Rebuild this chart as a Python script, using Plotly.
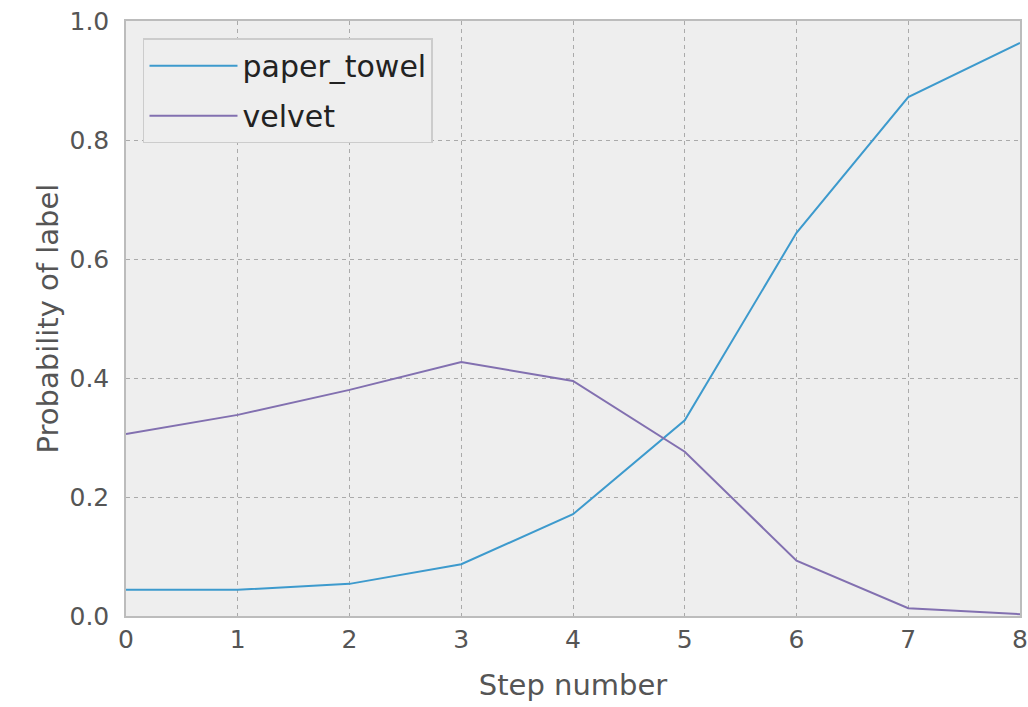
import plotly.graph_objects as go

steps = [0, 1, 2, 3, 4, 5, 6, 7, 8]
paper_towel = [0.044, 0.044, 0.054, 0.087, 0.171, 0.329, 0.644, 0.872, 0.963]
velvet = [0.306, 0.338, 0.380, 0.427, 0.395, 0.276, 0.093, 0.013, 0.003]

x_ticks = [0, 1, 2, 3, 4, 5, 6, 7, 8]
y_ticks = [0.0, 0.2, 0.4, 0.6, 0.8, 1.0]

fig = go.Figure()
fig.add_trace(go.Scatter(x=steps, y=paper_towel, mode="lines", name="paper_towel",
                         legendgroup="a",
                         line=dict(color="#3d9acd", width=2)))
fig.add_trace(go.Scatter(x=steps, y=velvet, mode="lines", name="velvet",
                         legendgroup="b",
                         line=dict(color="#8270b0", width=2)))

axis_common = dict(
    showgrid=True, gridcolor="#aaaaaa", griddash="4px,4px", gridwidth=1,
    showline=True, linecolor="#bcbcbc", linewidth=1.5, mirror=True,
    zeroline=False, ticks="", tickfont=dict(family="DejaVu Sans", size=25, color="#555555"),
    title_font=dict(family="DejaVu Sans", size=29, color="#555555"),
)

fig.update_layout(
    width=1028, height=707,
    margin=dict(l=126, r=8, t=21, b=91),
    paper_bgcolor="white", plot_bgcolor="#eeeeee",
    font=dict(family="DejaVu Sans", color="#555555"),
    xaxis=dict(range=[0, 8], tickvals=x_ticks, ticktext=[str(v) for v in x_ticks],
               automargin="bottom",
               title=dict(text="Step number", standoff=22), **axis_common),
    yaxis=dict(range=[0, 1], tickvals=y_ticks, ticktext=[f"{v:.1f}" for v in y_ticks],
               ticklabelstandoff=10, automargin="left",
               title=dict(text="Probability of label", standoff=2), **axis_common),
    legend=dict(x=0.019, y=0.971, xanchor="left", yanchor="top",
                bgcolor="#eeeeee", bordercolor="#cccccc", borderwidth=1.5,
                font=dict(family="DejaVu Sans", size=30, color="#222222"),
                itemwidth=88, tracegroupgap=8),
    showlegend=True,
)

fig.write_html("out.html", config={"displayModeBar": False},
               post_script="document.body.style.margin='0';document.body.style.overflow='hidden';")
